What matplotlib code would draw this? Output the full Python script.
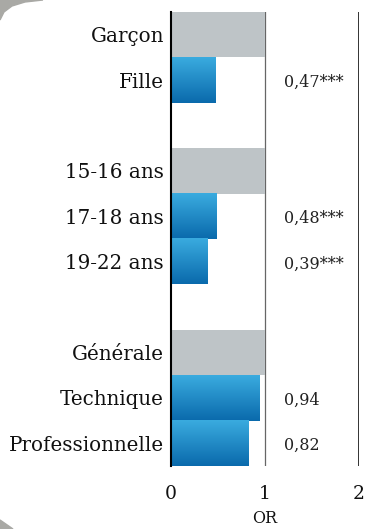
import numpy as np
import matplotlib
matplotlib.use("Agg")
import matplotlib.pyplot as plt
from matplotlib.colors import LinearSegmentedColormap
from matplotlib.patches import Polygon

labels = ["Garçon", "Fille", "15-16 ans", "17-18 ans", "19-22 ans",
          "Générale", "Technique", "Professionnelle"]
values = [1.0, 0.47, 1.0, 0.48, 0.39, 1.0, 0.94, 0.82]
is_ref = [True, False, True, False, False, True, False, False]
annot = ["", "0,47***", "", "0,48***", "0,39***", "", "0,94", "0,82"]
group = [0, 0, 1, 1, 1, 2, 2, 2]
xticks = [0, 1, 2]

plt.rcParams["font.family"] = ["DejaVu Serif"]

fig = plt.figure(figsize=(3.65, 5.29), dpi=100)
ax = fig.add_axes([171 / 365, 1 - 466 / 529, 188 / 365, 454 / 529])

pos = [i + g for i, g in enumerate(group)]
grad = LinearSegmentedColormap.from_list("b", ["#3aabdf", "#0a6aac"])
g = np.linspace(0, 1, 64).reshape(-1, 1)

ax.axvline(1, color="#666666", lw=0.9, zorder=1)
ax.axvline(2, color="#111111", lw=1.2, zorder=1)

for p, v, r, a in zip(pos, values, is_ref, annot):
    if r:
        ax.barh(p, v, height=1.0, color="#bec4c7", zorder=2)
    else:
        ax.imshow(g, cmap=grad, extent=[0, v, p + 0.5, p - 0.5],
                  aspect="auto", zorder=2, interpolation="bilinear")
    if a:
        ax.text(1.2, p + 0.05, a, va="center", ha="left", fontsize=11.5, color="#222222")

ax.set_xlim(0, 2)
ax.set_ylim(9.5, -0.5)
ax.set_yticks(pos)
ax.set_yticklabels(labels, fontsize=14.3, color="#111111")
ax.set_xticks(xticks)
ax.set_xticklabels([str(t) for t in xticks], fontsize=13.5, color="#111111")
ax.tick_params(length=0, pad=5)
ax.tick_params(axis="x", pad=14)
ax.set_xlabel("OR", fontsize=11.5, labelpad=5, color="#111111")
for s in ["top", "right", "bottom"]:
    ax.spines[s].set_visible(False)
ax.spines["left"].set_linewidth(1.5)
ax.spines["left"].set_zorder(3)

# decorative frame corners
fig.patches.append(Polygon([(0, 1), (43 / 365, 1), (25 / 365, 1 - 2 / 529),
                            (12 / 365, 1 - 6 / 529), (4 / 365, 1 - 12 / 529), (0, 1 - 20 / 529)],
                           closed=True, transform=fig.transFigure, color="#a9a9a5", zorder=0))
fig.patches.append(Polygon([(0, 0), (13 / 365, 0), (0, 9 / 529)],
                           closed=True, transform=fig.transFigure, color="#a9a9a5", zorder=0))

fig.savefig("out.png", dpi=100)
